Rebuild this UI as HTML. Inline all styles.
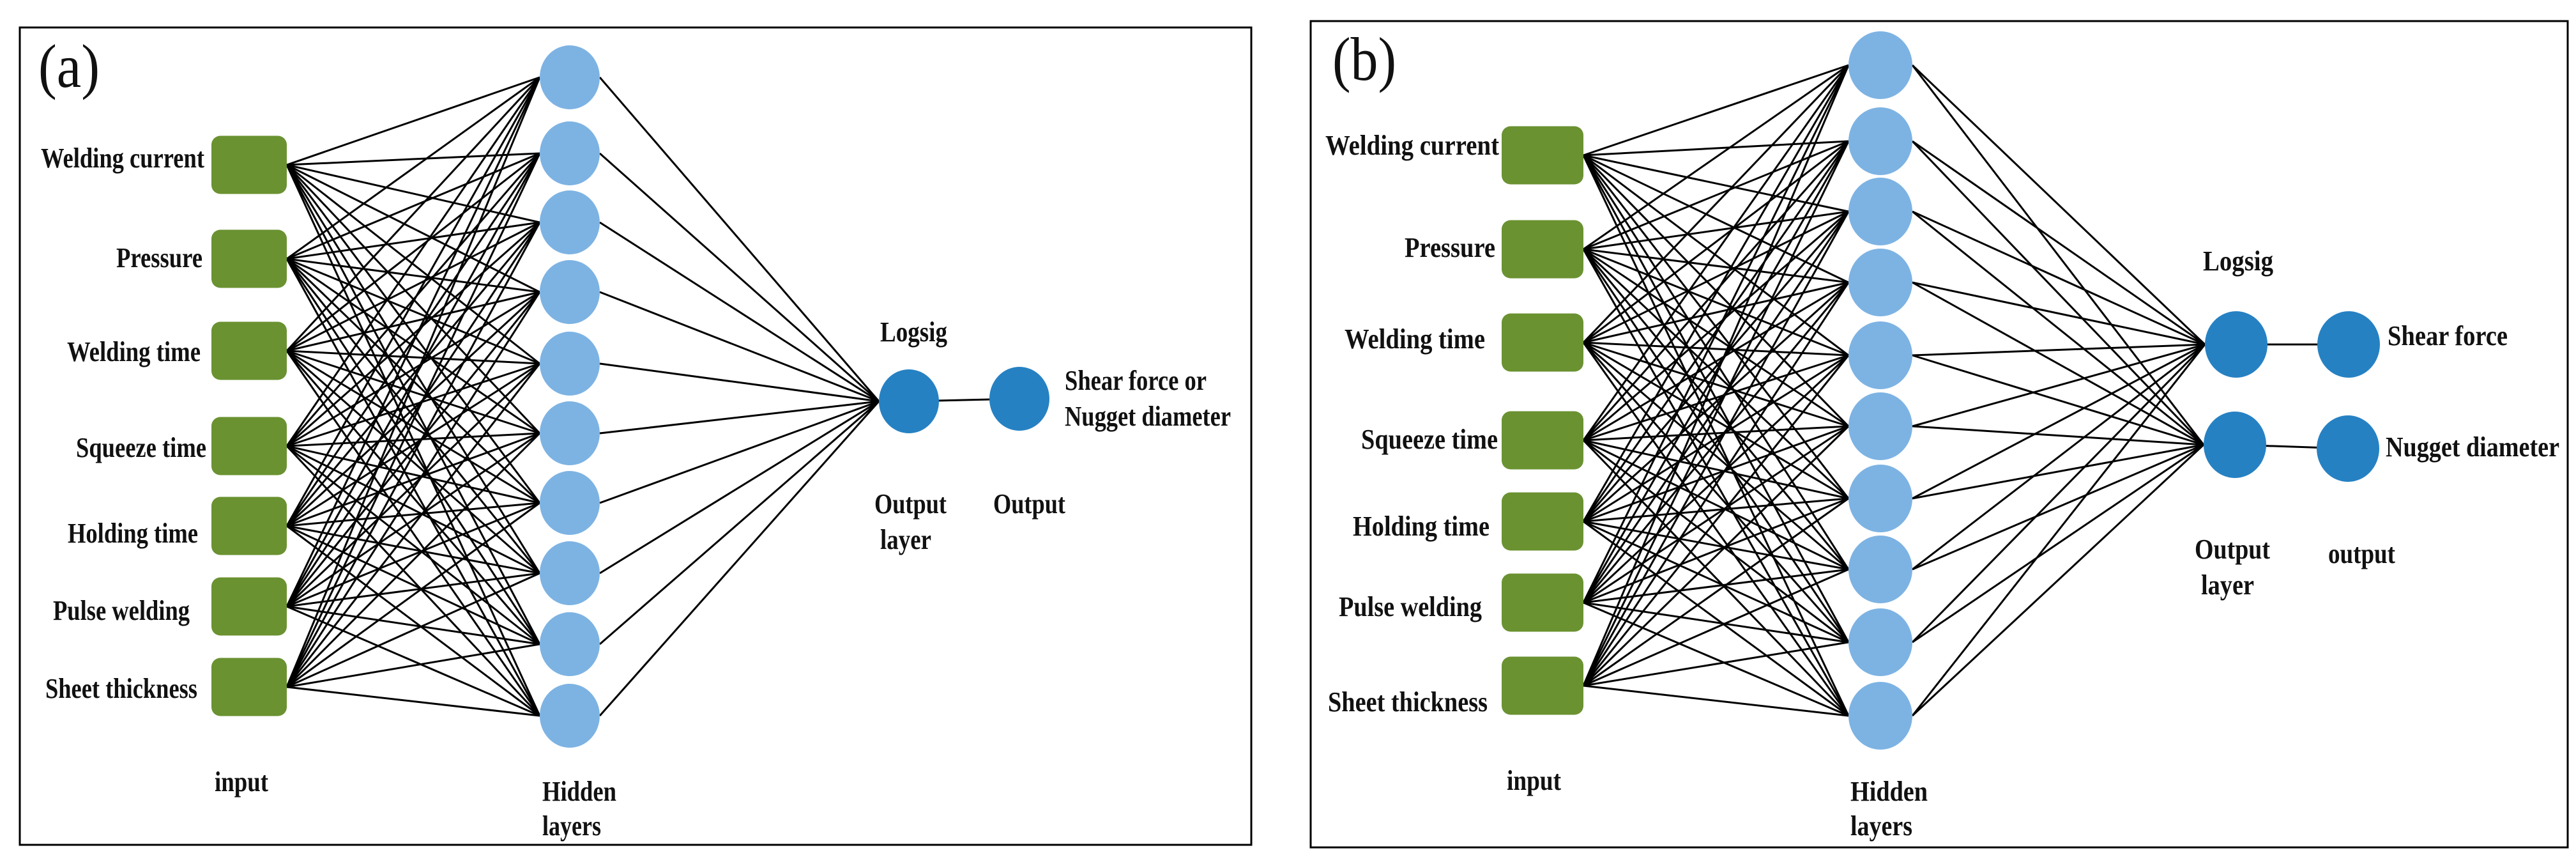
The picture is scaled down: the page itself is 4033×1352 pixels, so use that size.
<!DOCTYPE html>
<html><head><meta charset="utf-8"><style>
html,body{margin:0;padding:0;background:#fff;}
svg{display:block;}
text{font-family:"Liberation Serif",serif;font-weight:bold;fill:#111;}
</style></head><body>
<svg id="s" width="4033" height="1352" viewBox="0 0 4033 1352" xmlns="http://www.w3.org/2000/svg">
<rect x="0" y="0" width="4033" height="1352" fill="#fff"/>
<rect x="31" y="43" width="1928" height="1279" fill="none" stroke="#000" stroke-width="3"/>
<rect x="2052" y="33" width="1968" height="1293" fill="none" stroke="#000" stroke-width="3"/>
<g id="lines" stroke="#000" stroke-width="3"></g>
<g id="nodes"></g>
<g font-size="44">
<text x="320" y="262" text-anchor="end" textLength="256" lengthAdjust="spacingAndGlyphs">Welding current</text>
<text x="317" y="418" text-anchor="end" textLength="135" lengthAdjust="spacingAndGlyphs">Pressure</text>
<text x="314" y="565" text-anchor="end" textLength="209" lengthAdjust="spacingAndGlyphs">Welding time</text>
<text x="323" y="715" text-anchor="end" textLength="204" lengthAdjust="spacingAndGlyphs">Squeeze time</text>
<text x="310" y="849" text-anchor="end" textLength="204" lengthAdjust="spacingAndGlyphs">Holding time</text>
<text x="297" y="970" text-anchor="end" textLength="214" lengthAdjust="spacingAndGlyphs">Pulse welding</text>
<text x="309" y="1092" text-anchor="end" textLength="238" lengthAdjust="spacingAndGlyphs">Sheet thickness</text>
<text x="336" y="1238" textLength="84" lengthAdjust="spacingAndGlyphs">input</text>
<text x="849" y="1253" textLength="116" lengthAdjust="spacingAndGlyphs">Hidden</text>
<text x="849" y="1307" textLength="92" lengthAdjust="spacingAndGlyphs">layers</text>
<text x="1378" y="534" textLength="105" lengthAdjust="spacingAndGlyphs">Logsig</text>
<text x="1369" y="803" textLength="113" lengthAdjust="spacingAndGlyphs">Output</text>
<text x="1378" y="859" textLength="80" lengthAdjust="spacingAndGlyphs">layer</text>
<text x="1555" y="803" textLength="113" lengthAdjust="spacingAndGlyphs">Output</text>
<text x="1667" y="610" textLength="222" lengthAdjust="spacingAndGlyphs">Shear force or</text>
<text x="1667" y="666" textLength="260" lengthAdjust="spacingAndGlyphs">Nugget diameter</text>

<text x="2347" y="242" text-anchor="end" textLength="272" lengthAdjust="spacingAndGlyphs">Welding current</text>
<text x="2341" y="402" text-anchor="end" textLength="142" lengthAdjust="spacingAndGlyphs">Pressure</text>
<text x="2325" y="545" text-anchor="end" textLength="220" lengthAdjust="spacingAndGlyphs">Welding time</text>
<text x="2345" y="702" text-anchor="end" textLength="214" lengthAdjust="spacingAndGlyphs">Squeeze time</text>
<text x="2332" y="838" text-anchor="end" textLength="214" lengthAdjust="spacingAndGlyphs">Holding time</text>
<text x="2320" y="964" text-anchor="end" textLength="224" lengthAdjust="spacingAndGlyphs">Pulse welding</text>
<text x="2329" y="1113" text-anchor="end" textLength="250" lengthAdjust="spacingAndGlyphs">Sheet thickness</text>
<text x="2359" y="1236" textLength="85" lengthAdjust="spacingAndGlyphs">input</text>
<text x="2897" y="1253" textLength="121" lengthAdjust="spacingAndGlyphs">Hidden</text>
<text x="2897" y="1307" textLength="97" lengthAdjust="spacingAndGlyphs">layers</text>
<text x="3449" y="423" textLength="110" lengthAdjust="spacingAndGlyphs">Logsig</text>
<text x="3436" y="874" textLength="118" lengthAdjust="spacingAndGlyphs">Output</text>
<text x="3446" y="930" textLength="83" lengthAdjust="spacingAndGlyphs">layer</text>
<text x="3645" y="881" textLength="105" lengthAdjust="spacingAndGlyphs">output</text>
<text x="3738" y="540" textLength="188" lengthAdjust="spacingAndGlyphs">Shear force</text>
<text x="3735" y="714" textLength="272" lengthAdjust="spacingAndGlyphs">Nugget diameter</text>
</g>
<text x="60" y="136" font-size="96" style="font-weight:normal" textLength="96" lengthAdjust="spacingAndGlyphs">(a)</text>
<text x="2086" y="125" font-size="96" style="font-weight:normal" textLength="100" lengthAdjust="spacingAndGlyphs">(b)</text>
</svg>
<script>
var NS="http://www.w3.org/2000/svg";
var L=document.getElementById("lines"),N=document.getElementById("nodes");
function el(t,a,p){var e=document.createElementNS(NS,t);for(var k in a)e.setAttribute(k,a[k]);p.appendChild(e);return e;}
function panel(P){
  P.inY.forEach(function(iy){P.hY.forEach(function(hy){el("line",{x1:P.inX+P.inW,y1:iy,x2:P.hX-P.hr,y2:hy},L);});});
  P.hY.forEach(function(hy){P.o.forEach(function(o){el("line",{x1:P.hX+P.hr,y1:hy,x2:o[0]-P.or,y2:o[1]},L);});});
  P.o.forEach(function(o,i){var q=P.o2[i];el("line",{x1:o[0],y1:o[1],x2:q[0],y2:q[1]},L);});
  P.inY.forEach(function(iy){el("rect",{x:P.inX,y:iy-P.inH/2,width:P.inW,height:P.inH,rx:14,fill:"#6a9231"},N);});
  P.hY.forEach(function(hy){el("ellipse",{cx:P.hX,cy:hy,rx:P.hr,ry:P.hr+3,fill:"#7db3e3"},N);});
  P.o.concat(P.o2).forEach(function(o){el("ellipse",{cx:o[0],cy:o[1],rx:P.or,ry:P.or+3,fill:"#2681c3"},N);});
}
panel({inX:331,inW:118,inH:91,inY:[258,405,549,698,823,949,1075],hX:892,hr:47,
  hY:[121,240,348,457,569,678,787,897,1008,1120],or:47,o:[[1423,628]],o2:[[1596,624]]});
panel({inX:2351,inW:128,inH:91,inY:[243,390,536,689,816,943,1073],hX:2944,hr:50,
  hY:[102,221,331,442,556,667,780,891,1005,1120],or:49,o:[[3501,539],[3499,696]],o2:[[3677,539],[3676,702]]});
</script>
</body></html>
